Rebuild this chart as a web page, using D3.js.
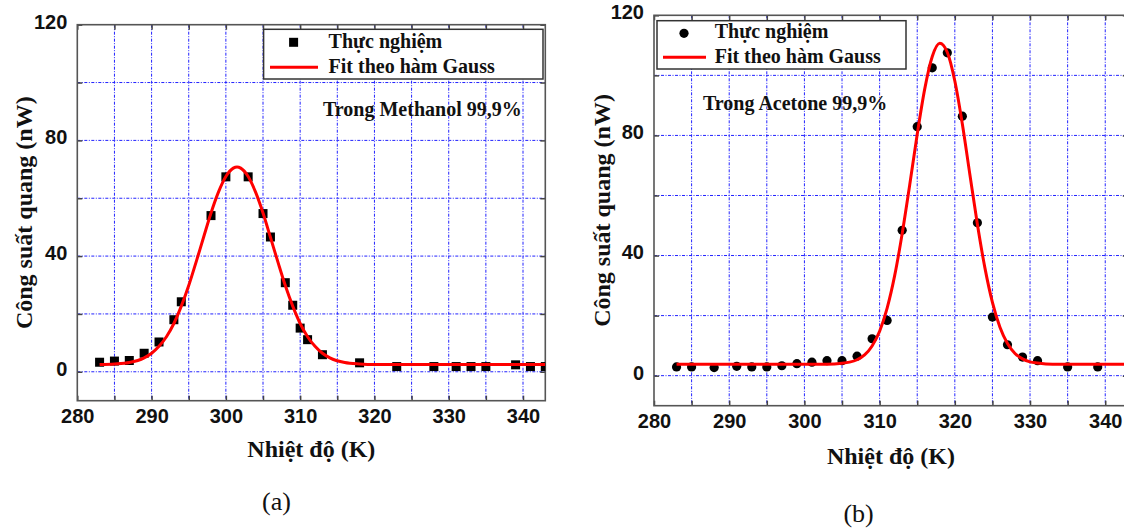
<!DOCTYPE html>
<html>
<head>
<meta charset="utf-8">
<script src="https://cdn.jsdelivr.net/npm/d3@7"></script>
<style>
  html, body { margin: 0; padding: 0; background: #fff; }
  svg { display: block; font-family: "Liberation Serif", "Times New Roman", serif; }
  .tick text { font-size: 20px; font-weight: bold; fill: #111; }
</style>
</head>
<body>
<svg id="chart" width="1124" height="531"></svg>
<script>
/* ── Data ─────────────────────────────────────────────────────────── */

// (a) Methanol: measured points
const tempA  = [283, 285, 287, 289, 291, 293, 294, 298, 300, 303, 305, 306, 308, 309, 310, 311, 313, 318, 323, 328, 331, 333, 335, 339, 341, 343];
const powerA = [3.3, 3.7, 3.9, 6.4, 10.3, 18.0, 24.2, 54.0, 67.4, 67.4, 54.7, 46.6, 30.8, 23.0, 15.1, 11.1, 5.9, 3.1, 1.8, 1.8, 1.8, 1.8, 1.8, 2.4, 1.8, 1.8];

// (a) Gauss fit, traced
const fitTempA  = [283, 285, 287, 289, 290, 291, 292, 293, 294, 295, 296, 297, 298, 299, 300, 301, 301.5, 302, 303, 304, 305, 306, 307, 308, 309, 310, 311, 312, 313, 314, 316, 318, 320, 343];
const fitPowerA = [2.5, 2.7, 3.2, 4.8, 6.4, 8.8, 12.1, 16.7, 22.7, 29.8, 38.0, 46.5, 54.9, 62.1, 67.5, 70.4, 70.8, 70.4, 67.5, 62.1, 54.9, 46.5, 38.0, 29.8, 22.7, 16.7, 12.1, 8.8, 6.4, 4.8, 3.2, 2.7, 2.5, 2.5];

// (b) Acetone: measured points
const tempB  = [283, 285, 288, 291, 293, 295, 297, 299, 301, 303, 305, 307, 309, 311, 313, 315, 317, 319, 321, 323, 325, 327, 329, 331, 335, 339];
const powerB = [2.9, 2.9, 2.7, 3.1, 2.9, 2.9, 3.3, 4.0, 4.5, 5.0, 5.0, 6.5, 12.3, 18.4, 48.4, 82.9, 102.5, 107.5, 86.4, 50.9, 19.5, 10.3, 6.2, 5.0, 2.9, 2.9];

// (b) Gauss fit, traced
const fitTempB  = [283, 295, 303, 305, 306, 307, 308, 309, 310, 311, 312, 313, 314, 315, 316, 317, 318, 319, 320, 321, 322, 323, 324, 325, 326, 327, 328, 329, 330, 331, 333, 345];
const fitPowerB = [3.8, 3.8, 3.8, 4.1, 4.5, 5.3, 6.9, 9.9, 14.8, 22.5, 33.3, 47.3, 63.5, 80.4, 95.5, 106.3, 110.7, 107.7, 98.1, 83.8, 67.0, 50.4, 35.9, 24.4, 16.1, 10.7, 7.4, 5.6, 4.6, 4.2, 3.8, 3.8];

// axes
const xDomain     = [280, 343];
const yDomain     = [-10, 120];
const xMinorTicks = [280, 285, 290, 295, 300, 305, 310, 315, 320, 325, 330, 335, 340];
const xLabelTicks = [280, 290, 300, 310, 320, 330, 340];
const yMinorTicks = [0, 20, 40, 60, 80, 100, 120];
const yLabelTicks = [0, 40, 80, 120];

const xTitle       = 'Nhiệt độ (K)';
const yTitle       = 'Công suất quang (nW)';
const legendPoints = 'Thực nghiệm';
const legendFit    = 'Fit theo hàm Gauss';

const svg = d3.select('#chart');

/* ── One panel ────────────────────────────────────────────────────── */
function drawPanel(p) {
  const x = d3.scaleLinear().domain(xDomain).range([p.left, p.right]);
  const y = d3.scaleLinear().domain(yDomain).range([p.bottom, p.top]);
  const g = svg.append('g');

  const clipId = 'clip-' + p.id;
  svg.append('clipPath').attr('id', clipId)
    .append('rect')
    .attr('x', p.left).attr('y', p.top)
    .attr('width', p.right - p.left).attr('height', p.bottom - p.top);

  // dotted blue grid
  const grid = g.append('g')
    .attr('stroke', '#2222ff')
    .attr('stroke-width', 1)
    .attr('stroke-dasharray', '3,1.5,1,1.5');
  grid.selectAll('.gx').data(xMinorTicks.filter(t => t > xDomain[0])).join('line')
    .attr('x1', d => x(d)).attr('x2', d => x(d))
    .attr('y1', p.top).attr('y2', p.bottom);
  grid.selectAll('.gy').data(yMinorTicks.filter(t => t < yDomain[1])).join('line')
    .attr('class', 'gy')
    .attr('x1', p.left).attr('x2', p.right)
    .attr('y1', d => y(d)).attr('y2', d => y(d));

  // axes with inward ticks
  const fmtX = d => xLabelTicks.includes(d) ? d : '';
  const fmtY = d => yLabelTicks.includes(d) ? d : '';

  const axB = g.append('g').attr('transform', `translate(0,${p.bottom})`)
    .call(d3.axisBottom(x).tickValues(xMinorTicks).tickSize(-5).tickPadding(8).tickFormat(fmtX));
  const axT = g.append('g').attr('transform', `translate(0,${p.top})`)
    .call(d3.axisTop(x).tickValues(xMinorTicks).tickSize(-5).tickFormat(''));
  const axL = g.append('g').attr('transform', `translate(${p.left},0)`)
    .call(d3.axisLeft(y).tickValues(yMinorTicks).tickSize(-5).tickPadding(10).tickFormat(fmtY));
  const axR = g.append('g').attr('transform', `translate(${p.right},0)`)
    .call(d3.axisRight(y).tickValues(yMinorTicks).tickSize(-5).tickFormat(''));

  [axB, axT, axL, axR].forEach(a => {
    a.select('.domain').remove();
    a.selectAll('.tick line').attr('stroke', '#444').attr('stroke-width', 1.5);
  });
  axB.selectAll('.tick text').attr('dy', '0.71em');
  axL.selectAll('.tick text').attr('dy', '0.17em');

  // frame
  g.append('rect')
    .attr('x', p.left).attr('y', p.top)
    .attr('width', p.right - p.left).attr('height', p.bottom - p.top)
    .attr('fill', 'none').attr('stroke', '#555').attr('stroke-width', 1.6);

  // points, then fit on top
  const plot = g.append('g').attr('clip-path', `url(#${clipId})`);
  const pts = p.temp.map((t, i) => ({ t, v: p.power[i] }));
  if (p.marker === 'square') {
    plot.selectAll('rect.pt').data(pts).join('rect')
      .attr('class', 'pt')
      .attr('x', d => x(d.t) - 4.5).attr('y', d => y(d.v) - 4.5)
      .attr('width', 9).attr('height', 9)
      .attr('fill', '#000');
  } else {
    plot.selectAll('circle.pt').data(pts).join('circle')
      .attr('class', 'pt')
      .attr('cx', d => x(d.t)).attr('cy', d => y(d.v))
      .attr('r', 4.6)
      .attr('fill', '#000');
  }

  const line = d3.line()
    .x((d, i) => x(p.fitTemp[i]))
    .y(d => y(d))
    .curve(d3.curveMonotoneX);
  plot.append('path')
    .datum(p.fitPower)
    .attr('d', line)
    .attr('fill', 'none')
    .attr('stroke', '#ff0000')
    .attr('stroke-width', 3);

  // legend
  const L = p.legend;
  g.append('rect')
    .attr('x', L.x).attr('y', L.y).attr('width', L.w).attr('height', L.h)
    .attr('fill', '#fff').attr('stroke', '#333').attr('stroke-width', 1.5);
  if (p.marker === 'square') {
    g.append('rect').attr('x', L.mx - 4.5).attr('y', L.my - 4.5)
      .attr('width', 9).attr('height', 9).attr('fill', '#000');
  } else {
    g.append('circle').attr('cx', L.mx).attr('cy', L.my).attr('r', 4.6).attr('fill', '#000');
  }
  g.append('line')
    .attr('x1', L.lx1).attr('x2', L.lx2).attr('y1', L.ly).attr('y2', L.ly)
    .attr('stroke', '#ff0000').attr('stroke-width', 3);
  g.append('text').attr('x', L.tx).attr('y', L.t1y)
    .attr('font-size', 20).attr('font-weight', 'bold').attr('fill', '#111')
    .text(legendPoints);
  g.append('text').attr('x', L.tx).attr('y', L.t2y)
    .attr('font-size', 20).attr('font-weight', 'bold').attr('fill', '#111')
    .text(legendFit);

  // annotation
  g.append('text').attr('x', p.note.x).attr('y', p.note.y)
    .attr('font-size', 20).attr('font-weight', 'bold').attr('fill', '#111')
    .text(p.note.text);

  // axis titles
  g.append('text')
    .attr('x', (p.left + p.right) / 2).attr('y', p.xTitleY)
    .attr('text-anchor', 'middle')
    .attr('font-size', 24).attr('font-weight', 'bold').attr('fill', '#111')
    .text(xTitle);
  g.append('text')
    .attr('transform', `translate(${p.yTitleX},${(p.top + p.bottom) / 2}) rotate(-90)`)
    .attr('text-anchor', 'middle')
    .attr('font-size', 24).attr('font-weight', 'bold').attr('fill', '#111')
    .text(yTitle);

  // caption
  g.append('text')
    .attr('x', p.caption.x).attr('y', p.caption.y)
    .attr('text-anchor', 'middle')
    .attr('font-size', 26).attr('fill', '#111')
    .text(p.caption.text);
}

drawPanel({
  id: 'a', left: 77.3, right: 545.3, top: 24.7, bottom: 400.7,
  temp: tempA, power: powerA, fitTemp: fitTempA, fitPower: fitPowerA,
  marker: 'square',
  legend: { x: 263.6, y: 29.3, w: 279.4, h: 49.7, mx: 293.6, my: 42.3,
            lx1: 270, lx2: 318, ly: 67.3, tx: 328.6, t1y: 47.5, t2y: 72.7 },
  note: { x: 323, y: 115.5, text: 'Trong Methanol 99,9%' },
  xTitleY: 457, yTitleX: 32,
  caption: { x: 276.5, y: 510, text: '(a)' }
});

drawPanel({
  id: 'b', left: 654, right: 1127.8, top: 15.3, bottom: 405.7,
  temp: tempB, power: powerB, fitTemp: fitTempB, fitPower: fitPowerB,
  marker: 'circle',
  legend: { x: 657, y: 20.7, w: 249, h: 48.3, mx: 684, my: 33.3,
            lx1: 663, lx2: 706, ly: 57.3, tx: 714.7, t1y: 38, t2y: 62.7 },
  note: { x: 703, y: 110, text: 'Trong Acetone 99,9%' },
  xTitleY: 464, yTitleX: 610,
  caption: { x: 858.6, y: 522, text: '(b)' }
});
</script>
</body>
</html>
